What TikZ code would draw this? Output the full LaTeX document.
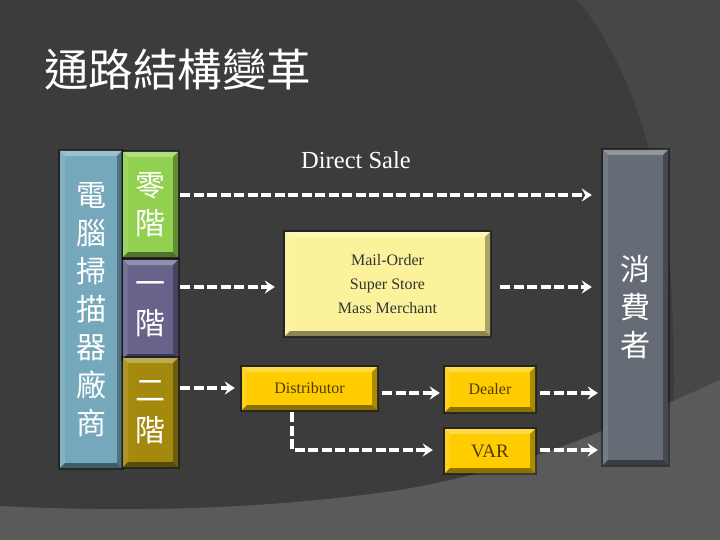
\documentclass[tikz,border=0pt]{standalone}
\usepackage{fontspec}
\setmainfont{Liberation Serif}
\newfontfamily\cjk{Noto Sans CJK TC}
\usetikzlibrary{arrows.meta}
\definecolor{bg}{HTML}{3C3C3C}
\definecolor{arcbg}{HTML}{474747}
\definecolor{botbg}{HTML}{5A5A5A}
\definecolor{blueF}{HTML}{76A8BC}
\definecolor{greenF}{HTML}{92D050}
\definecolor{purpF}{HTML}{67638A}
\definecolor{oliveF}{HTML}{A38A0E}
\definecolor{consF}{HTML}{666C76}
\definecolor{mailF}{HTML}{FCF29B}
\definecolor{goldF}{HTML}{FFCC00}
\definecolor{txtBrown}{HTML}{4D3B00}
\definecolor{txtDark}{HTML}{333333}
\tikzset{
  bevelbox/.style={rectangle, inner sep=0pt, fill=#1,
    preaction={draw=black, draw opacity=0.4, line width=3.5pt},
    path picture={
      \fill[#1!72!white] (path picture bounding box.north west) -- (path picture bounding box.north east) -- ([xshift=-5pt,yshift=-5pt]path picture bounding box.north east) -- ([xshift=5pt,yshift=-5pt]path picture bounding box.north west) -- cycle;
      \fill[#1!90!white] (path picture bounding box.north west) -- ([xshift=5pt,yshift=-5pt]path picture bounding box.north west) -- ([xshift=5pt,yshift=5pt]path picture bounding box.south west) -- (path picture bounding box.south west) -- cycle;
      \fill[#1!68!black] (path picture bounding box.north east) -- ([xshift=-5pt,yshift=-5pt]path picture bounding box.north east) -- ([xshift=-5pt,yshift=5pt]path picture bounding box.south east) -- (path picture bounding box.south east) -- cycle;
      \fill[#1!55!black] (path picture bounding box.south west) -- ([xshift=5pt,yshift=5pt]path picture bounding box.south west) -- ([xshift=-5pt,yshift=5pt]path picture bounding box.south east) -- (path picture bounding box.south east) -- cycle;
    }},
  cjkcol/.style={text=white, align=center, font=\cjk\fontsize{30}{38}\selectfont},
  smalltxt/.style={align=center, font=\fontsize{16}{24}\selectfont},
  arr/.style={draw=white, line width=3.2pt, dash pattern=on 10pt off 3.5pt,
    -{Stealth[length=10pt,width=13pt,inset=3.5pt]}},
}
\begin{document}
\begin{tikzpicture}[x=1pt,y=-1pt]
\useasboundingbox (0,0) rectangle (720,540);
% background
\fill[bg] (0,0) rectangle (720,540);
\fill[arcbg] (577,0) .. controls (630,60) and (668,180) .. (672,300) .. controls (675,380) .. (672,440) -- (720,440) -- (720,0) -- cycle;
\fill[botbg] (0,506) .. controls (160,514) and (290,506) .. (400,490) .. controls (520,470) and (620,425) .. (720,380) -- (720,540) -- (0,540) -- cycle;
% title
\node[anchor=west, text=white, font=\cjk\fontsize{44.5}{44.5}\selectfont, inner sep=0pt] (title) at (44,70) {通路結構變革};
% boxes
\node[bevelbox=blueF, minimum width=62pt, minimum height=317pt, cjkcol] (ven) at (91,309.5) {電\\腦\\掃\\描\\器\\廠\\商};
\node[bevelbox=greenF, minimum width=55pt, minimum height=105pt, cjkcol] (zero) at (150.5,204.5) {零\\階};
\node[bevelbox=purpF, minimum width=55pt, minimum height=99pt, cjkcol, font=\cjk\fontsize{30}{40}\selectfont] (one) at (150.5,309.5) {一\\階};
\node[bevelbox=oliveF, minimum width=55pt, minimum height=109pt, cjkcol, font=\cjk\fontsize{30}{40}\selectfont] (two) at (150.5,412.5) {二\\階};
\node[bevelbox=consF, minimum width=65pt, minimum height=315pt, cjkcol] (cons) at (635.5,307.5) {消\\費\\者};
\node[bevelbox=mailF, minimum width=205pt, minimum height=104pt, smalltxt, text=txtDark] (mail) at (387.5,284) {Mail-Order\\Super Store\\Mass Merchant};
\node[bevelbox=goldF, minimum width=135pt, minimum height=43pt, smalltxt, text=txtBrown] (dist) at (309.5,388.5) {Distributor};
\node[bevelbox=goldF, minimum width=90pt, minimum height=45pt, smalltxt, text=txtBrown] (dealer) at (490,389.5) {Dealer};
\node[bevelbox=goldF, minimum width=90pt, minimum height=44pt, font=\fontsize{19}{22}\selectfont, text=txtBrown] (var) at (490,451) {VAR};
% label
\node[text=white, font=\fontsize{24.5}{28}\selectfont] (ds) at (356,160) {Direct Sale};
% arrow levels
\coordinate (yD) at (0,195);
\coordinate (yM) at (0,287);
\coordinate (yT) at (0,388);
\coordinate (yR) at (0,393);
\coordinate (yV) at (0,450);
\coordinate (xV) at (292,0);
% arrows
\draw[arr, shorten <=2pt, shorten >=11pt] (yD -| zero.east) -- (yD -| cons.west);
\draw[arr, shorten <=2pt, shorten >=10pt] (yM -| one.east) -- (yM -| mail.west);
\draw[arr, shorten <=10pt, shorten >=11pt] (yM -| mail.east) -- (yM -| cons.west);
\draw[arr, shorten <=2pt, shorten >=7pt] (yT -| two.east) -- (yT -| dist.west);
\draw[arr, shorten <=5pt, shorten >=5pt] (yR -| dist.east) -- (yR -| dealer.west);
\draw[arr, shorten <=5pt, shorten >=5pt] (yR -| dealer.east) -- (yR -| cons.west);
\draw[arr, shorten <=2pt, shorten >=12pt] (xV |- dist.south) |- (yV -| var.west);
\draw[arr, shorten <=5pt, shorten >=5pt] (yV -| var.east) -- (yV -| cons.west);
\end{tikzpicture}
\end{document}
